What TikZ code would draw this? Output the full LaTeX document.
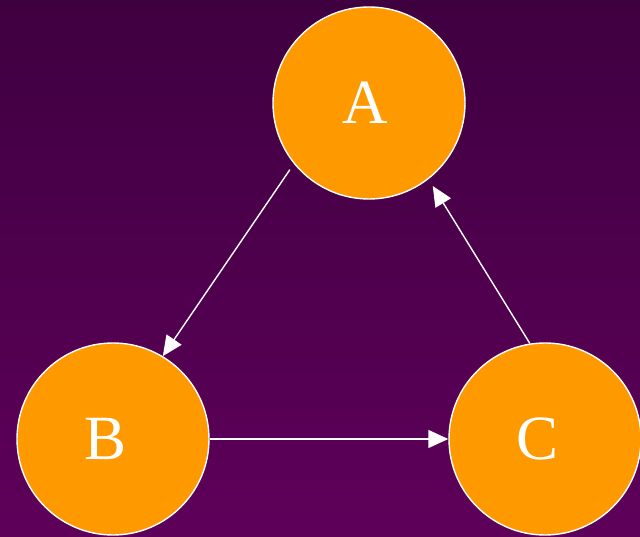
\documentclass[tikz,border=0pt]{standalone}
\usepackage{fontspec}
\setmainfont{Liberation Serif}
\usetikzlibrary{arrows.meta}
\definecolor{bgtop}{HTML}{3F0040}
\definecolor{bgbot}{HTML}{5E005A}
\definecolor{nodeorange}{HTML}{FF9900}
\tikzset{
  ball/.style={circle, fill=nodeorange, draw=white, line width=1.4pt, minimum size=192pt, inner sep=0pt, text=white, font=\fontsize{63}{63}\selectfont},
  conn/.style={draw=white, line width=1.4pt, -{Triangle[length=20pt, width=18pt]}}
}
\begin{document}
\begin{tikzpicture}[x=1pt, y=1pt]
\useasboundingbox (0,0) rectangle (640,536);
\shade[top color=bgtop, bottom color=bgbot] (0,0) rectangle (640,536);
\node[ball] (A) at (369,433) {A\kern8pt\relax};
\node[ball] (B) at (113,97) {B\kern15pt\relax};
\node[ball] (C) at (545,97) {C\kern15pt\relax};
\draw[conn, shorten <=7pt] (A.219) -- (B.59);
\draw[conn] (B.east) -- (C.west);
\draw[conn, shorten >=8pt] (C.99) -- (A.308);
\end{tikzpicture}
\end{document}
